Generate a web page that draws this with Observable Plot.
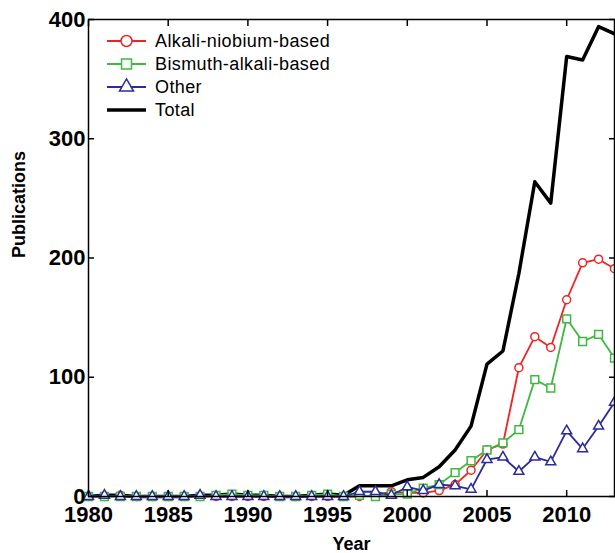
<!DOCTYPE html>
<html>
<head>
<meta charset="utf-8">
<script src="https://cdn.jsdelivr.net/npm/d3@7"></script>
<script src="https://cdn.jsdelivr.net/npm/@observablehq/plot@0.6"></script>
<style>
  html, body { margin: 0; padding: 0; background: #fff; }
  #chart { width: 615px; height: 553px; }
</style>
</head>
<body>
<div id="chart"></div>
<script>
const years = d3.range(1980, 2014);
const alkaliNiobium = [0,0,1,0,0,0,0,0,0,0,0,0,0,0,0,0,0, 0,1,4,3,3,5,10,22,39,44,108,134,125,165,196,199,191];
const bismuthAlkali = [0,0,0,0,0,0,0,0,1,2,1,1,0,0,1,2,0, 1,0,2,2,7,10,20,30,39,45,56,98,91,149,130,136,116];
const other         = [0,1,0,0,0,0,0,1,0,0,0,0,0,0,0,0,0, 4,4,1,8,5,10,9,6,31,33,21,33,29,55,40,59,79];
const total         = [0,1,1,0,0,0,0,1,1,2,1,1,0,0,1,2,1, 9,9,9,14,16,25,39,59,111,122,187,264,246,369,366,394,388];

const xTicks = [1980, 1985, 1990, 1995, 2000, 2005, 2010];
const yTicks = [0, 100, 200, 300, 400];

const seriesNames = ["Alkali-niobium-based", "Bismuth-alkali-based", "Other", "Total"];
const seriesColors = ["#ee2424", "#3fb83f", "#2b2b9a", "#000000"];
const seriesSymbols = ["circle", "square", "triangle", null];

const rows = years.map((year, i) => ({year, alkali: alkaliNiobium[i], bismuth: bismuthAlkali[i], other: other[i], total: total[i]}));

const font = "'Liberation Sans', Arial, sans-serif";

const svg = Plot.plot({
  width: 615,
  height: 553,
  marginLeft: 88,
  marginRight: 1,
  marginTop: 19,
  marginBottom: 57,
  style: {fontFamily: font, background: "#fff", color: "#000"},
  x: {domain: [1980, 2013]},
  y: {domain: [0, 400]},
  marks: [
    Plot.line(rows, {x: "year", y: "total", stroke: seriesColors[3], strokeWidth: 3.5}),
    Plot.line(rows, {x: "year", y: "alkali", stroke: seriesColors[0], strokeWidth: 1.8}),
    Plot.dot(rows, {x: "year", y: "alkali", symbol: "circle", r: 4, stroke: seriesColors[0], fill: "#fff", strokeWidth: 1.5}),
    Plot.line(rows, {x: "year", y: "bismuth", stroke: seriesColors[1], strokeWidth: 1.8}),
    Plot.dot(rows, {x: "year", y: "bismuth", symbol: "square", r: 4.4, stroke: seriesColors[1], fill: "#fff", strokeWidth: 1.5}),
    Plot.line(rows, {x: "year", y: "other", stroke: seriesColors[2], strokeWidth: 1.8}),
    Plot.dot(rows, {x: "year", y: "other", symbol: "triangle", r: 3.7, stroke: seriesColors[2], fill: "#fff", strokeWidth: 1.5}),
    Plot.frame({stroke: "#000", strokeWidth: 1.5}),
    // tick labels
    Plot.axisX({ticks: xTicks, tickSize: 0, tickPadding: 10, tickFormat: d => String(d), fontSize: 22, fontWeight: "bold", label: null}),
    Plot.axisY({ticks: yTicks, tickSize: 0, tickPadding: 3, tickFormat: d => String(d), fontSize: 22, fontWeight: "bold", label: null}),
    // inward ticks on all four sides
    Plot.axisX({anchor: "bottom", ticks: xTicks, tickSize: 6, dy: -6, strokeWidth: 1.5, tickFormat: () => "", label: null}),
    Plot.axisX({anchor: "top", ticks: xTicks, tickSize: 6, dy: 6, strokeWidth: 1.5, tickFormat: () => "", label: null}),
    Plot.axisY({anchor: "left", ticks: yTicks, tickSize: 6, dx: 6, strokeWidth: 1.5, tickFormat: () => "", label: null}),
    Plot.axisY({anchor: "right", ticks: yTicks, tickSize: 6, dx: -6, strokeWidth: 1.5, tickFormat: () => "", label: null}),
    Plot.text(["Year"], {frameAnchor: "bottom", dy: 48, text: d => d, fontSize: 18, fontWeight: "bold", lineAnchor: "middle"}),
    Plot.text(["Publications"], {frameAnchor: "left", dx: -69, text: d => d, rotate: -90, fontSize: 18, fontWeight: "bold", lineAnchor: "middle"})
  ]
});

// legend inside the plot area
const s = d3.select(svg);
const lg = s.append("g").attr("font-family", font).attr("font-size", 18).attr("text-anchor", "start");
const rowY = [41, 64, 87, 110];
seriesNames.forEach((name, i) => {
  const y = rowY[i];
  lg.append("line").attr("x1", 107).attr("x2", 146).attr("y1", y).attr("y2", y)
    .attr("stroke", seriesColors[i]).attr("stroke-width", i === 3 ? 3.5 : 1.8);
  if (seriesSymbols[i]) {
    const sym = {circle: d3.symbolCircle, square: d3.symbolSquare, triangle: d3.symbolTriangle}[seriesSymbols[i]];
    const size = i === 0 ? Math.PI * 5.5 * 5.5 : (i === 1 ? Math.PI * 5.6 * 5.6 : Math.PI * 5.2 * 5.2);
    lg.append("path").attr("d", d3.symbol(sym, size)()).attr("transform", `translate(126.5,${y})`)
      .attr("fill", "#fff").attr("stroke", seriesColors[i]).attr("stroke-width", 1.5);
  }
  lg.append("text").attr("x", 155).attr("y", y).attr("dy", "0.35em").attr("fill", "#000")
    .attr("text-anchor", "start").attr("letter-spacing", "0.4px").text(name);
});

document.getElementById("chart").appendChild(svg);
</script>
</body>
</html>
